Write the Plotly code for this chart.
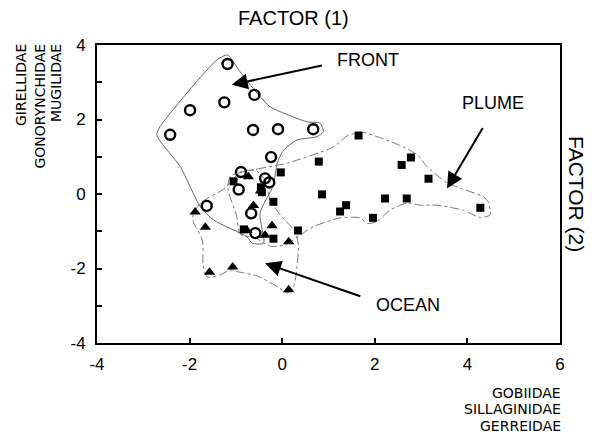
import plotly.graph_objects as go

# ---- data (factor scores) ----
front_x = [-1.18, -0.60, -1.25, -1.99, -2.42, -0.63, -0.09, 0.67, -0.24, -0.89, -0.94, -0.37, -0.28, -1.63, -0.67, -0.58]
front_y = [3.49, 2.66, 2.46, 2.25, 1.59, 1.72, 1.74, 1.74, 0.99, 0.59, 0.12, 0.42, 0.31, -0.32, -0.52, -1.05]

plume_x = [1.65, 0.79, 2.78, 2.58, 3.16, 0.86, 2.22, 2.69, 1.38, 1.25, 1.96, 4.28, 0.34, -0.03, -1.05, -0.46, -0.44, -0.19, -0.19, -0.83]
plume_y = [1.57, 0.87, 0.98, 0.78, 0.41, -0.01, -0.12, -0.12, -0.30, -0.47, -0.64, -0.37, -0.98, 0.58, 0.34, 0.18, 0.05, -0.21, -1.20, -0.95]

ocean_x = [-0.73, -1.88, -1.66, -0.62, -0.47, -0.22, -0.37, 0.14, -1.57, -1.07, 0.14, -0.76]
ocean_y = [0.46, -0.48, -0.89, -0.31, 0.08, -0.85, -1.11, -1.28, -2.10, -1.96, -2.57, -0.98]

# ---- group boundaries ----
front_hull_x = [-1.18, -0.91, -0.51, -0.26, 0.53, 0.82, 0.89, 0.75, 0.32, 0.03, -0.11, -0.19, -0.48, -0.40, -0.65, -0.76, -1.48, -1.77, -2.20, -2.71, -2.64, -1.41, -1.18]
front_hull_y = [3.73, 3.28, 2.66, 2.34, 1.94, 1.90, 1.67, 1.54, 1.45, 1.18, 0.82, 0.24, -0.52, -1.32, -1.32, -1.15, -0.70, -0.34, 0.73, 1.58, 1.81, 3.60, 3.73]

plume_hull_x = [-1.12, -0.54, 0.11, 1.10, 1.43, 1.75, 2.05, 2.61, 2.92, 3.13, 3.56, 3.84, 4.34, 4.45, 4.49, 4.28, 3.89, 3.35, 2.98, 2.70, 2.33, 2.05, 1.84, 1.68, 1.25, 0.67, 0.39, 0.06, -0.26, -0.58, -0.91, -0.99, -1.17, -1.12]
plume_hull_y = [0.48, 0.67, 0.83, 1.26, 1.58, 1.65, 1.54, 1.27, 1.05, 0.73, 0.30, 0.16, -0.07, -0.21, -0.56, -0.63, -0.43, -0.30, -0.30, -0.24, -0.43, -0.74, -0.79, -0.64, -0.64, -0.88, -1.10, -1.37, -1.40, -1.18, -1.07, -0.56, 0.11, 0.48]

ocean_hull_x = [-1.92, -1.73, -1.23, -0.91, -0.58, -0.37, -0.26, -0.04, 0.28, 0.35, 0.30, 0.24, 0.11, -0.09, -0.54, -0.95, -1.12, -1.34, -1.62, -1.71, -1.71, -1.75, -1.92, -1.92]
ocean_hull_y = [-0.51, -0.21, 0.16, 0.59, 0.64, 0.38, -0.16, -0.56, -1.02, -1.37, -2.17, -2.50, -2.66, -2.50, -2.20, -2.09, -2.04, -2.17, -2.23, -1.91, -1.37, -1.15, -0.75, -0.51]

x_ticks = [-4, -2, 0, 2, 4, 6]
y_ticks = [-4, -3, -2, -1, 0, 1, 2, 3, 4]
y_ticktext = ["-4", "", "-2", "", "0", "", "2", "", "4"]

labels = ["FRONT", "PLUME", "OCEAN"]
label_pos = [(1.86, 3.60), (4.56, 2.44), (2.72, -2.98)]
arrow_tail = [(0.89, 3.46), (4.35, 1.81), (1.72, -2.76)]
arrow_tip = [(-1.09, 2.93), (3.56, 0.15), (-0.37, -1.86)]

FONT = "Liberation Sans, Arial, sans-serif"
SMALL_FONT = "DejaVu Sans, Liberation Sans, sans-serif"

fig = go.Figure()

fig.add_trace(go.Scatter(x=front_hull_x, y=front_hull_y, mode="lines",
                         line=dict(color="#666", width=1, shape="spline", smoothing=0.6),
                         hoverinfo="skip", showlegend=False))
fig.add_trace(go.Scatter(x=plume_hull_x, y=plume_hull_y, mode="lines",
                         line=dict(color="#777", width=1, dash="dashdot", shape="spline", smoothing=0.6),
                         hoverinfo="skip", showlegend=False))
fig.add_trace(go.Scatter(x=ocean_hull_x, y=ocean_hull_y, mode="lines",
                         line=dict(color="#777", width=1, dash="dashdot", shape="spline", smoothing=0.6),
                         hoverinfo="skip", showlegend=False))

fig.add_trace(go.Scatter(x=plume_x, y=plume_y, mode="markers", name="PLUME",
                         marker=dict(symbol="square", size=8, color="black"), showlegend=False))
fig.add_trace(go.Scatter(x=ocean_x, y=ocean_y, mode="markers", name="OCEAN",
                         marker=dict(symbol="triangle-up", size=10, color="black"), showlegend=False))
fig.add_trace(go.Scatter(x=front_x, y=front_y, mode="markers", name="FRONT",
                         marker=dict(symbol="circle-open", size=10, color="black", line=dict(width=2.4)),
                         showlegend=False))

annotations = []
for lab, (lx, ly), (tx, ty), (hx, hy) in zip(labels, label_pos, arrow_tail, arrow_tip):
    annotations.append(dict(x=lx, y=ly, xref="x", yref="y", text=lab, showarrow=False,
                            font=dict(family=FONT, size=18, color="black")))
    annotations.append(dict(x=hx, y=hy, ax=tx, ay=ty, xref="x", yref="y", axref="x", ayref="y",
                            text="", showarrow=True, arrowhead=2, arrowsize=1.6, arrowwidth=2,
                            arrowcolor="black"))

# axis titles / family labels
annotations.append(dict(x=0.424, y=1.0, xref="paper", yref="paper", yshift=27, text="FACTOR (1)",
                        showarrow=False, yanchor="middle", font=dict(family=FONT, size=20, color="black")))
annotations.append(dict(x=1.0, y=0.5, xref="paper", yref="paper", xshift=17, text="FACTOR (2)",
                        textangle=90, showarrow=False, xanchor="center",
                        font=dict(family=FONT, size=21, color="black")))
for name, xs in zip(["GIRELLIDAE", "GONORYNCHIDAE", "MUGILIDAE"], [-76, -58, -41]):
    annotations.append(dict(x=0, y=1.0, xref="paper", yref="paper", xshift=xs, yshift=3,
                            text=name, textangle=-90, showarrow=False, xanchor="center", yanchor="top",
                            font=dict(family=SMALL_FONT, size=14, color="black")))
for name, ys in zip(["GOBIIDAE", "SILLAGINIDAE", "GERREIDAE"], [-50, -66, -83]):
    annotations.append(dict(x=1.0, y=0, xref="paper", yref="paper", xshift=3, yshift=ys,
                            text=name, showarrow=False, xanchor="right", yanchor="middle",
                            font=dict(family=SMALL_FONT, size=14, color="black")))

fig.update_layout(
    width=596, height=435,
    margin=dict(l=89, r=44, t=37, b=100),
    plot_bgcolor="white", paper_bgcolor="white",
    annotations=annotations,
    showlegend=False,
    font=dict(family=FONT, size=15, color="black"),
)
fig.update_xaxes(range=[-4, 6], tickvals=x_ticks, ticktext=[str(v) for v in x_ticks],
                 ticks="inside", ticklen=5, tickwidth=1.5, tickcolor="black",
                 showline=True, linecolor="black", linewidth=2, mirror=True,
                 showgrid=False, zeroline=False, ticklabelstandoff=5,
                 tickfont=dict(family=FONT, size=17, color="black"))
fig.update_yaxes(range=[-4, 4], tickvals=y_ticks, ticktext=y_ticktext,
                 ticks="inside", ticklen=5, tickwidth=1.5, tickcolor="black",
                 showline=True, linecolor="black", linewidth=2, mirror=True,
                 showgrid=False, zeroline=False, ticklabelstandoff=6,
                 tickfont=dict(family=FONT, size=17, color="black"))

fig.write_html("out.html")
